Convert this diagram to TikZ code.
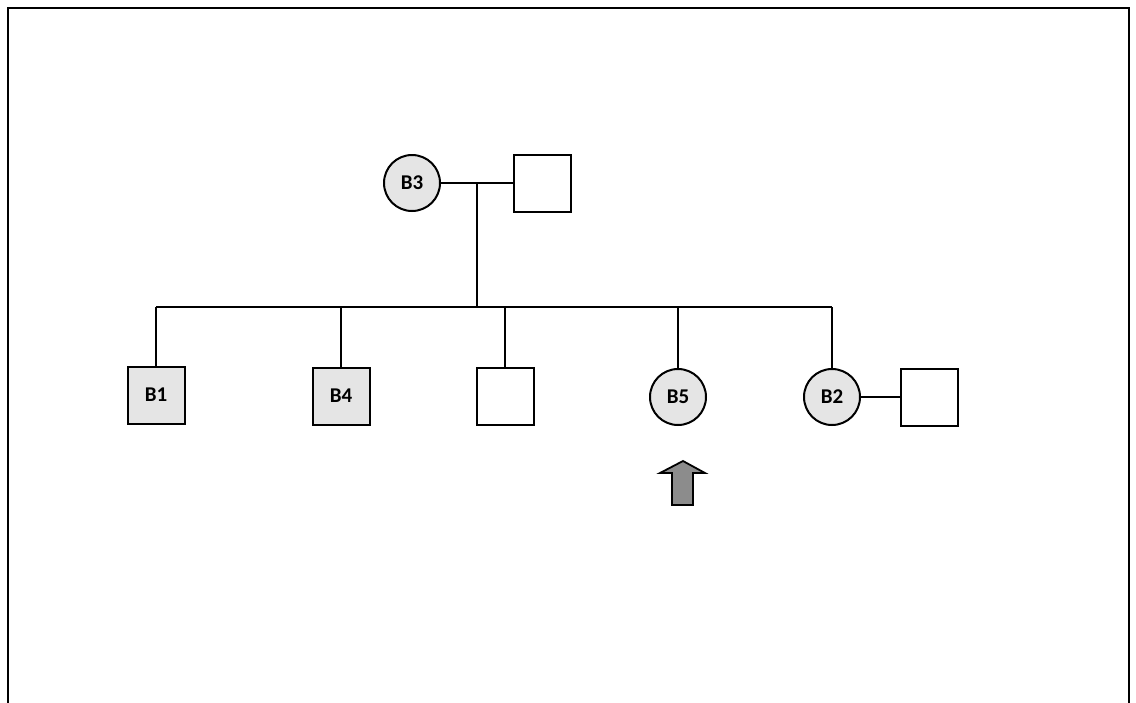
\documentclass[tikz,border=0pt]{standalone}
\usepackage{fontspec}
\setmainfont{Carlito}
\begin{document}
\begin{tikzpicture}[x=1pt,y=-1pt,
  line width=2pt,
  male/.style={draw=black,rectangle,minimum width=57pt,minimum height=57pt,inner sep=0pt,font=\fontsize{21}{24}\selectfont\bfseries},
  female/.style={draw=black,circle,minimum size=56pt,inner sep=0pt,font=\fontsize{21}{24}\selectfont\bfseries},
  aff/.style={fill=black!10},
  link/.style={line width=1.8pt}]
\useasboundingbox (0,0) rectangle (1136,702);
\fill[white] (0,0) rectangle (1136,702);
\draw[line width=2.4pt] (8,720) -- (8,8) -- (1129,8) -- (1129,720);
% generation I
\node[female,aff] (B3) at (412,183) {B3};
\node[male] (F1) at (542,183) {};
\coordinate (m1) at (477,183);
\draw[link] (B3) -- (F1);
% sibship
\coordinate (s) at (477,307);
\coordinate (sL) at (156,307);
\coordinate (sR) at (832,307);
\draw[link] (m1) -- (s);
\draw[link] (sL) -- (sR);
% generation II
\node[male,aff] (B1) at (156,395) {B1};
\node[male,aff] (B4) at (341,396) {B4};
\node[male] (S3) at (505,396) {};
\node[female,aff] (B5) at (678,397) {B5};
\node[female,aff] (B2) at (832,397) {B2};
\node[male] (H2) at (929,397) {};
\draw[link] (sL) -- (B1.north);
\draw[link] (B4.north |- s) -- (B4.north);
\draw[link] (S3.north |- s) -- (S3.north);
\draw[link] (B5.north |- s) -- (B5.north);
\draw[link] (sR) -- (B2.north);
\draw[link] (B2) -- (H2);
% proband arrow
\coordinate (a0) at (683,461);
\draw[line width=1.8pt,fill=black!45,line join=miter]
  (a0) -- (705,473) -- (693,473) -- (693,505) -- (672,505) -- (672,473) -- (660,473) -- cycle;
\end{tikzpicture}
\end{document}
